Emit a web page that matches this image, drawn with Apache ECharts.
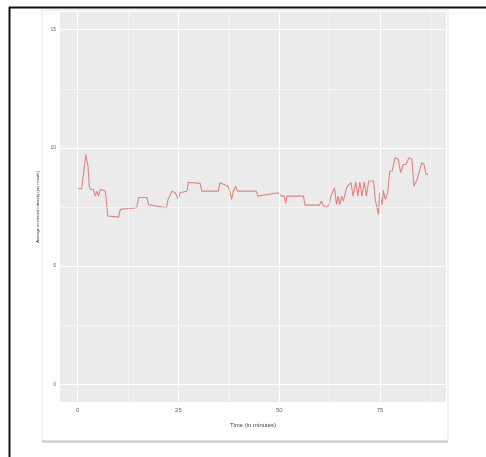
<!DOCTYPE html>
<html><head><meta charset="utf-8">
<script src="https://cdn.jsdelivr.net/npm/echarts@6/dist/echarts.min.js"></script>
<style>html,body{margin:0;padding:0;background:#fff}#c{width:486px;height:457px}</style>
</head><body><div id="c"></div>
<script>
var timeMin = [0.1,1.0,1.7,2.05,2.5,2.6,2.9,3.2,3.9,4.4,4.8,5.2,5.7,6.0,6.9,7.1,7.5,10.2,10.6,11.0,14.7,15.1,17.2,17.6,22.1,22.4,23.4,24.2,25.0,25.4,27.1,27.5,30.4,30.8,34.9,35.3,37.3,37.6,38.2,38.6,39.2,39.6,44.3,44.7,49.7,50.5,51.3,51.6,51.9,56.0,56.4,60.0,60.4,60.8,61.5,62.4,62.8,63.7,64.2,64.6,65.0,65.5,65.9,66.7,67.3,67.8,68.3,69.0,69.5,70.0,70.5,71.1,71.6,72.2,73.4,73.8,74.6,74.9,75.5,75.8,76.3,76.9,77.4,78.0,78.7,79.5,80.1,80.7,81.4,82.2,82.9,83.4,84.2,84.6,85.3,85.9,86.4,86.9];
var value = [8.27,8.27,9.22,9.72,9.72,9.22,8.38,8.25,8.25,7.96,8.17,7.96,8.25,8.2,8.17,8.17,7.12,7.07,7.4,7.47,7.47,7.9,7.9,7.6,7.47,7.8,8.17,8.1,7.82,8.1,8.17,8.55,8.5,8.17,8.17,8.53,8.38,8.25,7.82,8.17,8.38,8.17,8.17,7.96,8.1,7.96,7.96,7.65,7.96,7.96,7.58,7.58,7.75,7.6,7.47,7.6,7.96,8.31,7.6,7.96,7.6,7.96,7.75,8.31,8.45,8.53,7.96,8.55,7.96,8.55,7.96,8.55,7.96,8.6,8.6,7.82,7.19,8.1,7.6,8.2,7.82,8.1,9.02,9.02,9.58,9.52,8.95,9.3,9.3,9.58,9.52,8.38,8.67,8.75,9.37,9.3,8.88,8.88];
var xTicks = [0,25,50,75];
var yTicks = [0,5,10,15];
var xMinor = [12.5,37.5,62.5,87.5];
var yMinor = [2.5,7.5,12.5];

var pts = timeMin.map(function(t,i){return [t, value[i]];});
var ml = [];
xTicks.forEach(function(v){ml.push({xAxis:v, lineStyle:{width:1.1}});});
xMinor.forEach(function(v){ml.push({xAxis:v, lineStyle:{width:0.5}});});
yTicks.forEach(function(v){ml.push({yAxis:v, lineStyle:{width:1.1}});});
yMinor.forEach(function(v){ml.push({yAxis:v, lineStyle:{width:0.5}});});

var chart = echarts.init(document.getElementById('c'), null, {renderer:'canvas'});
chart.setOption({
  animation:false,
  backgroundColor:'#fff',
  graphic:[
    {type:'rect', shape:{x:42,y:10,width:406,height:432}, style:{fill:'#fff', stroke:'#e4e6ea', lineWidth:1}, z:-10},
    {type:'line', shape:{x1:42,y1:441.5,x2:448,y2:441.5}, style:{stroke:'#c4c8d0', lineWidth:2}, z:-9},
    {type:'line', shape:{x1:9,y1:7.5,x2:486,y2:7.5}, style:{stroke:'#111', lineWidth:2}},
    {type:'line', shape:{x1:9.5,y1:7,x2:9.5,y2:457}, style:{stroke:'#111', lineWidth:2}}
  ],
  grid:{left:60, top:12, right:40, bottom:55, show:true, backgroundColor:'#EBEBEB', borderWidth:0},
  xAxis:{type:'value', min:-4.35, max:91.35,
    name:'Time (in minutes)', nameLocation:'middle', nameGap:20,
    nameTextStyle:{fontSize:6, color:'#444', fontFamily:'Liberation Sans Narrow, Liberation Sans'},
    axisLine:{show:false}, splitLine:{show:false},
    axisTick:{show:true, customValues:xTicks, length:2, lineStyle:{color:'#999'}},
    axisLabel:{customValues:xTicks, fontSize:6, color:'#666', margin:5}},
  yAxis:{type:'value', min:-0.75, max:15.75,
    name:'Average emotional intensity (per minute)', nameLocation:'middle', nameGap:13,
    nameTextStyle:{fontSize:4, color:'#333'},
    axisLine:{show:false}, splitLine:{show:false},
    axisTick:{show:true, customValues:yTicks, length:2, lineStyle:{color:'#999'}},
    axisLabel:{customValues:yTicks, fontSize:5, color:'#666', margin:4}},
  series:[{type:'line', data:pts, showSymbol:false, symbol:'none',
    lineStyle:{color:'#E0857F', width:1.1},
    markLine:{silent:true, symbol:'none', label:{show:false}, animation:false,
      lineStyle:{color:'#fff', type:'solid'}, data:ml}, z:3}]
});
</script></body></html>
